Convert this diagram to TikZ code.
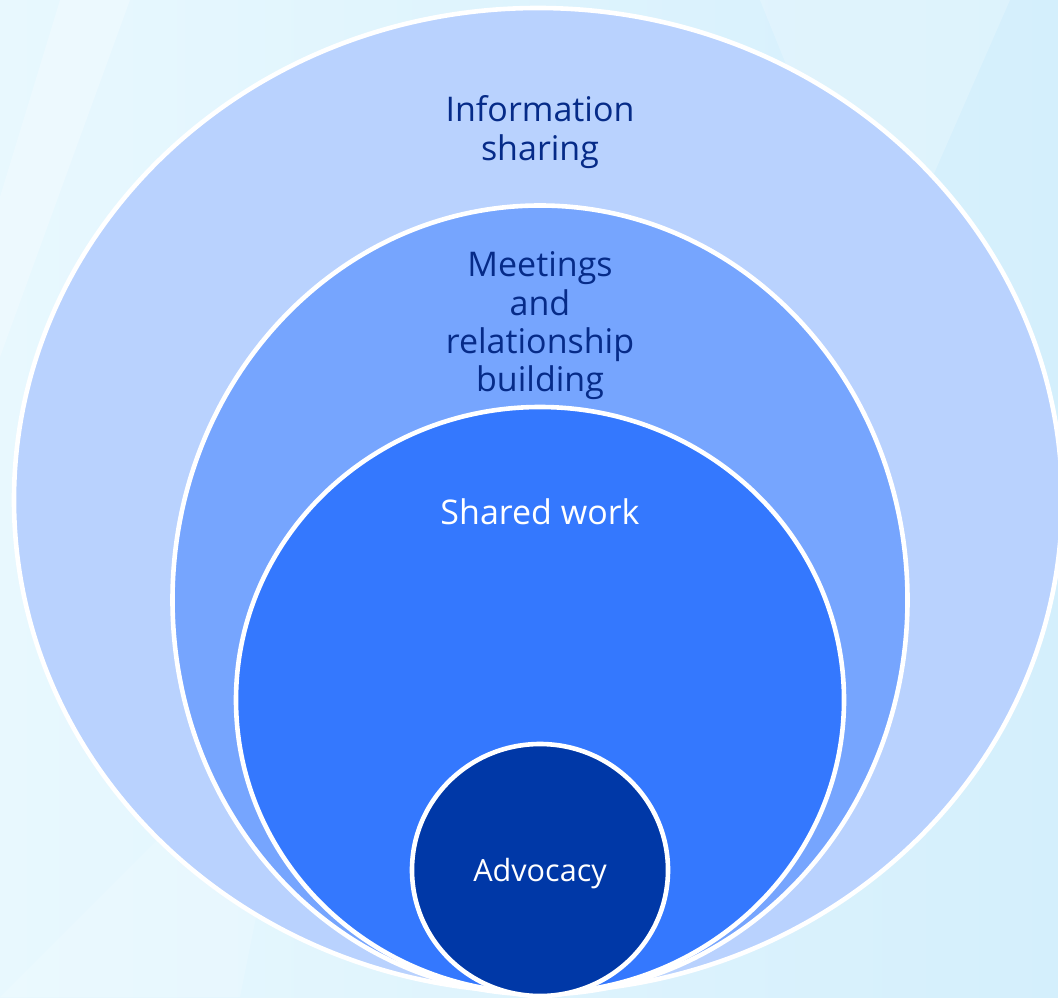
\documentclass[tikz,border=0pt]{standalone}
\usepackage{fontspec}
\setmainfont{Open Sans}
\definecolor{bgleft}{HTML}{E8F8FE}
\definecolor{bgright}{HTML}{D4EFFC}
\definecolor{ringone}{HTML}{B9D2FE}
\definecolor{ringtwo}{HTML}{76A5FE}
\definecolor{ringthree}{HTML}{3478FE}
\definecolor{ringcore}{HTML}{0038A7}
\definecolor{labelnavy}{HTML}{062B88}
\begin{document}
\begin{tikzpicture}[x=0.5pt,y=0.5pt,
  ring/.style={draw=white, line width=2.3pt},
  darklabel/.style={text=labelnavy, align=center, font=\fontsize{17}{19.2}\selectfont},
  lightlabel/.style={text=white, align=center, font=\fontsize{17}{19.2}\selectfont}]
\useasboundingbox (0,0) rectangle (1058,997);
\clip (0,0) rectangle (1058,997);
% background
\fill[left color=bgleft, right color=bgright] (0,0) rectangle (1058,997);
\fill[white, opacity=0.25] (0,640) -- (130,997) -- (60,997) -- (0,800) -- cycle;
\fill[white, opacity=0.2] (760,997) -- (1010,997) -- (880,700) -- cycle;
\fill[white, opacity=0.15] (0,0) -- (300,300) -- (240,0) -- cycle;
% rings
\filldraw[ring, fill=ringone] (538,497) ellipse [x radius=524, y radius=492];
\filldraw[ring, fill=ringtwo] (540,397) ellipse [x radius=367.5, y radius=394.5];
\filldraw[ring, fill=ringthree] (540,297) ellipse [x radius=304, y radius=293];
\filldraw[ring, fill=ringcore] (540,127) ellipse [x radius=128, y radius=126];
% labels
\node[darklabel] (info) at (540,865) {Information\\sharing};
\node[darklabel] (meet) at (540,671) {Meetings\\and\\relationship\\building};
\node[lightlabel] (shared) at (540,485) {Shared work};
\node[lightlabel, font=\fontsize{15.3}{17}\selectfont] (advocacy) at (540,123) {Advocacy};
\end{tikzpicture}
\end{document}
